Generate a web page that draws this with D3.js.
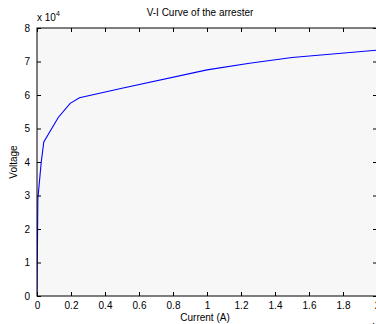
<!DOCTYPE html>
<html><head><meta charset="utf-8">
<script src="https://cdn.jsdelivr.net/npm/d3@7"></script>
<style>
body{margin:0;background:#fff;}
text{font-family:"Liberation Sans",Arial,sans-serif;}
</style></head>
<body><svg id="c" width="376" height="324"></svg>
<script>
const current = [0, 50, 250, 400, 1250, 1950, 2500, 5000, 10000, 12500, 15000, 20000];
const voltage = [0, 29000, 40000, 46000, 53300, 57500, 59200, 62000, 67500, 69500, 71200, 73400];
const xTicks = [0, 0.2, 0.4, 0.6, 0.8, 1, 1.2, 1.4, 1.6, 1.8, 2];
const yTicks = [0, 1, 2, 3, 4, 5, 6, 7, 8];
const title = "V-I Curve of the arrester";
const xLabel = "Current (A)";
const yLabel = "Voltage";

const svg = d3.select("#c");
const L = 37, R = 377, T = 28, B = 296;
const x = d3.scaleLinear().domain([0, 20000]).range([L, R]);
const y = d3.scaleLinear().domain([0, 80000]).range([B, T]);

svg.append("rect").attr("x", L).attr("y", T).attr("width", R - L).attr("height", B - T).attr("fill", "#f7f7f7");

svg.append("defs").append("clipPath").attr("id", "clip").append("rect")
  .attr("x", L).attr("y", T).attr("width", R - L).attr("height", B - T);

const line = d3.line().x((d, i) => x(current[i])).y((d, i) => y(voltage[i]));
svg.append("path").datum(current).attr("clip-path", "url(#clip)")
  .attr("d", line).attr("fill", "none").attr("stroke", "#0000ff").attr("stroke-width", 1.1);

function styleAxis(g, hideLabels) {
  g.select(".domain").remove();
  g.selectAll(".tick line").attr("stroke", "#000");
  g.selectAll(".tick text").attr("fill", "#000").style("font-size", "10px").style("font-family", '"Liberation Sans",Arial,sans-serif');
  if (hideLabels) g.selectAll(".tick text").remove();
}
const tk = 4;
svg.append("g").attr("transform", `translate(0,${B})`)
  .call(d3.axisBottom(x).tickValues(xTicks.map(v => v * 1e4)).tickFormat((d, i) => xTicks[i]).tickSizeInner(-tk).tickSizeOuter(0).tickPadding(6))
  .call(g => styleAxis(g, false));
svg.append("g").attr("transform", `translate(0,${T})`)
  .call(d3.axisTop(x).tickValues(xTicks.map(v => v * 1e4)).tickSizeInner(-tk).tickSizeOuter(0))
  .call(g => styleAxis(g, true));
svg.append("g").attr("transform", `translate(${L},0)`)
  .call(d3.axisLeft(y).tickValues(yTicks.map(v => v * 1e4)).tickFormat((d, i) => yTicks[i]).tickSizeInner(-tk).tickSizeOuter(0).tickPadding(7))
  .call(g => styleAxis(g, false));
svg.append("g").attr("transform", `translate(${R},0)`)
  .call(d3.axisRight(y).tickValues(yTicks.map(v => v * 1e4)).tickSizeInner(-tk).tickSizeOuter(0))
  .call(g => styleAxis(g, true));

svg.append("rect").attr("x", L).attr("y", T).attr("width", R - L).attr("height", B - T)
  .attr("fill", "none").attr("stroke", "#000").attr("stroke-width", 1);

svg.append("text").attr("x", 200).attr("y", 16).attr("text-anchor", "middle").style("font-size", "10px").text(title);
svg.append("text").attr("x", 205).attr("y", 321).attr("text-anchor", "middle").style("font-size", "10px").text(xLabel);
svg.append("text").attr("transform", "translate(17,162) rotate(-90)").attr("text-anchor", "middle").style("font-size", "10px").text(yLabel);

function mult(xp, yp) {
  const t = svg.append("text").attr("x", xp).attr("y", yp).style("font-size", "10px");
  t.append("tspan").text("x 10");
  t.append("tspan").attr("dy", -5).style("font-size", "7px").text("4");
}
mult(37, 21);
mult(352, 333);
</script></body></html>
